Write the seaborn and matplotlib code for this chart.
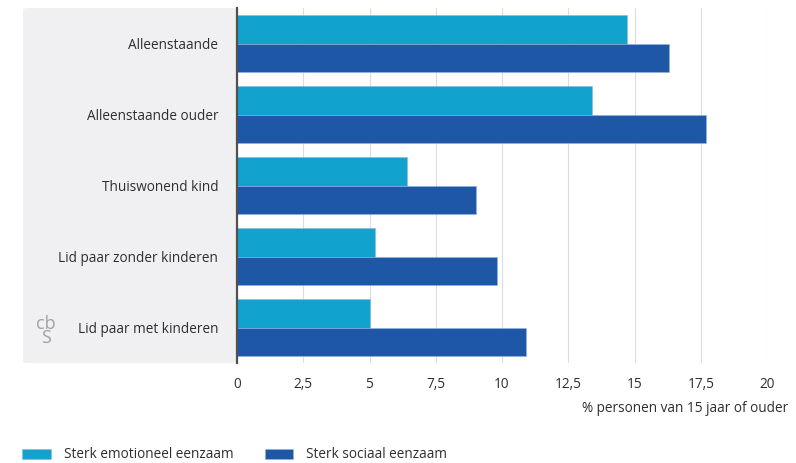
import pandas as pd
import matplotlib
matplotlib.use("Agg")
import matplotlib.pyplot as plt
from matplotlib.patches import FancyBboxPatch
import seaborn as sns

categories = [
    "Alleenstaande",
    "Alleenstaande ouder",
    "Thuiswonend kind",
    "Lid paar zonder kinderen",
    "Lid paar met kinderen",
]
emotioneel = [14.7, 13.4, 6.4, 5.2, 5.0]
sociaal = [16.3, 17.7, 9.0, 9.8, 10.9]
series = ["Sterk emotioneel eenzaam", "Sterk sociaal eenzaam"]
xticks = [0, 2.5, 5, 7.5, 10, 12.5, 15, 17.5, 20]
xlabel = "% personen van 15 jaar of ouder"

COLORS = ["#12a2ce", "#1f57a7"]
TXT = "#2e2e2e"
FS = 9.8

df = pd.DataFrame({
    "groep": categories * 2,
    "waarde": emotioneel + sociaal,
    "reeks": [series[0]] * len(categories) + [series[1]] * len(categories),
})

sns.set_style("white")
plt.rcParams["font.family"] = ["Open Sans", "DejaVu Sans"]

fig = plt.figure(figsize=(7.96, 4.63), dpi=100)
ax = fig.add_axes([237 / 796, 100 / 463, 530 / 796, 355 / 463])

# grijs paneel achter de categorienamen
panel = FancyBboxPatch((23 / 796, 100 / 463), 214 / 796, 355 / 463,
                       boxstyle="round,pad=0,rounding_size=0.006",
                       transform=fig.transFigure, facecolor="#f0f0f2",
                       edgecolor="none", zorder=-5)
fig.patches.append(panel)

sns.barplot(data=df, y="groep", x="waarde", hue="reeks", palette=COLORS,
            orient="h", width=0.8, ax=ax, edgecolor="#8fb6e0", linewidth=0.4,
            saturation=1, zorder=3)

ax.set_xlim(0, 20)
ax.set_xticks(xticks)
ax.set_xticklabels([f"{t:g}".replace(".", ",") for t in xticks])
ax.xaxis.grid(True, color="#dcdcdc", linewidth=0.8, zorder=0)
ax.set_axisbelow(True)
ax.patch.set_alpha(0)
for s in ["top", "right", "bottom"]:
    ax.spines[s].set_visible(False)
ax.spines["left"].set_color("#505050")
ax.spines["left"].set_linewidth(1.6)
ax.spines["left"].set_zorder(5)
ax.tick_params(axis="both", length=0, labelsize=FS, labelcolor=TXT)
ax.tick_params(axis="y", pad=13.5)
ax.tick_params(axis="x", pad=10)
ax.set_ylabel("")
ax.set_xlabel("")
fig.text(788 / 796, 55 / 463, xlabel, ha="right", va="center",
         fontsize=FS, color=TXT)

# legenda onderaan
handles, labels = ax.get_legend_handles_labels()
ax.get_legend().remove()
fig.legend(handles, labels, loc="center left", bbox_to_anchor=(17 / 796, 8 / 463),
           ncol=2, frameon=False, fontsize=FS, labelcolor=TXT,
           handlelength=2.1, handleheight=0.8, handletextpad=0.95,
           columnspacing=2.3, borderaxespad=0)

# eenvoudig cbs-logo
logo_ax = fig.add_axes([33 / 796, 112 / 463, 26 / 796, 40 / 463])
logo_ax.axis("off")
logo_ax.text(0.5, 0.5, "cb\nS", ha="center", va="center", fontsize=13,
             color="#a0a0a0", linespacing=0.75)

fig.savefig("out.png", dpi=100)
